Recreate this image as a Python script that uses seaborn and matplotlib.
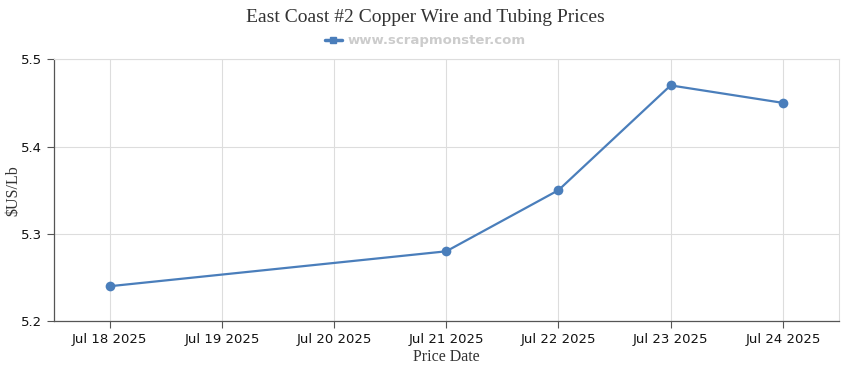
import pandas as pd
import seaborn as sns
import matplotlib.pyplot as plt
import matplotlib.dates as mdates
from matplotlib.lines import Line2D

dates = ['2025-07-18', '2025-07-21', '2025-07-22', '2025-07-23', '2025-07-24']
prices = [5.24, 5.28, 5.35, 5.47, 5.45]
tick_dates = ['2025-07-18', '2025-07-19', '2025-07-20', '2025-07-21',
              '2025-07-22', '2025-07-23', '2025-07-24']
y_ticks = [5.2, 5.3, 5.4, 5.5]

line_color = '#4a7ebb'

df = pd.DataFrame({'date': pd.to_datetime(dates), 'price': prices})

sns.set_style('white')
fig, ax = plt.subplots(figsize=(8.5, 3.7), dpi=100)
fig.subplots_adjust(left=0.063, right=0.987, top=0.84, bottom=0.132)

sns.lineplot(data=df, x='date', y='price', ax=ax, color=line_color,
             linewidth=1.6, marker='o', markersize=7, markeredgewidth=0)

ticks = pd.to_datetime(tick_dates)
ax.set_xticks(ticks)
ax.xaxis.set_major_formatter(mdates.DateFormatter('%b %d %Y'))
ax.set_xlim(ticks[0] - pd.Timedelta(hours=12), ticks[-1] + pd.Timedelta(hours=12))
ax.set_ylim(5.2, 5.5)
ax.set_yticks(y_ticks)
ax.set_yticklabels([f'{v:.1f}' for v in y_ticks])

ax.grid(True, color='#dddddd', linewidth=0.8)
ax.set_axisbelow(True)
for side in ['top', 'right']:
    ax.spines[side].set_color('#dddddd')
    ax.spines[side].set_linewidth(0.8)
for side in ['left', 'bottom']:
    ax.spines[side].set_color('#555555')
    ax.spines[side].set_linewidth(0.9)

ax.tick_params(axis='both', which='major', labelsize=9.5, colors='#555555',
               labelcolor='#111111', length=5, width=0.8, direction='out',
               left=True, bottom=True)

serif = ['Liberation Serif', 'DejaVu Serif']
ax.set_xlabel('Price Date', fontsize=11.5, family=serif, color='#333333', labelpad=2)
ax.set_ylabel('$US/Lb', fontsize=11.5, family=serif, color='#333333')
ax.yaxis.set_label_coords(-0.041, 0.5)
fig.suptitle('East Coast #2 Copper Wire and Tubing Prices', fontsize=14,
             family=serif, color='#333333', y=0.975)

handle = Line2D([], [], color=line_color, linewidth=2.5, marker='s', markersize=5)
leg = fig.legend([handle], ['www.scrapmonster.com'], loc='center',
                 bbox_to_anchor=(0.5, 0.89), frameon=False, handlelength=1.3,
                 handletextpad=0.4, prop={'weight': 'bold', 'size': 9.5})
for t in leg.get_texts():
    t.set_color('#cccccc')

fig.savefig('out.png', dpi=100)
